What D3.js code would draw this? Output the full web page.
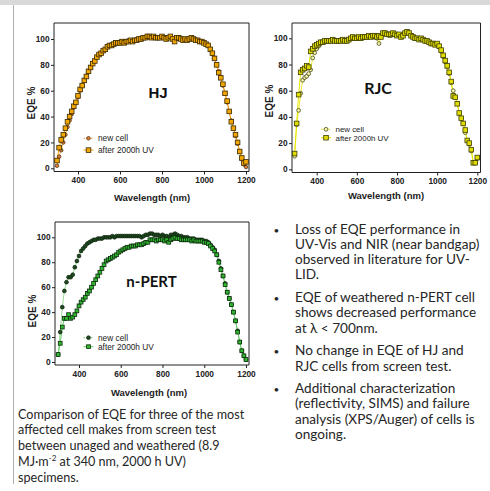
<!DOCTYPE html>
<html>
<head>
<meta charset="utf-8">
<script src="https://cdn.jsdelivr.net/npm/d3@7"></script>
<style>
  body { margin: 0; background: #fff; }
  svg { display: block; }
</style>
</head>
<body>
<svg id="page" width="490" height="491"></svg>
<script>
  // wavelengths in nm
  var wl = d3.range(300, 1201, 10);
  var wlRjc = d3.range(290, 1201, 10);
  var xTicks = [400, 600, 800, 1000, 1200];
  var yTicks = [0, 20, 40, 60, 80, 100];

  // EQE %
  var hjNew = [2, 9, 14, 20, 26, 32, 37, 42, 47, 51,
    55, 60, 64, 68, 71, 75, 78, 81, 83, 86,
    88, 89, 91, 92, 94, 95, 96, 96, 97, 97,
    98, 98, 98, 98, 99, 99, 99, 99, 100, 100,
    100, 101, 101, 102, 101, 101, 101, 101, 101, 101,
    101, 101, 101, 101, 101, 100, 100, 100, 100, 100,
    100, 100, 100, 100, 100, 100, 99, 99, 98, 98,
    97, 96, 95, 92, 89, 85, 80, 75, 70, 64,
    58, 51, 44, 37, 31, 25, 19, 13, 7, 3,
    1];
  var hjAged = [6, 16, 22, 26, 31, 36, 40, 44, 48, 51,
    56, 61, 64, 68, 71, 75, 78, 81, 83, 86,
    88, 89, 91, 92, 94, 95, 95, 96, 97, 97,
    97, 98, 97, 98, 98, 99, 98, 99, 99, 100,
    100, 101, 101, 102, 102, 101, 102, 101, 101, 101,
    102, 101, 100, 101, 102, 100, 98, 101, 101, 100,
    99, 100, 99, 100, 101, 100, 99, 99, 98, 98,
    97, 96, 95, 92, 89, 85, 80, 74, 70, 65,
    58, 52, 44, 36, 31, 26, 20, 13, 8, 4,
    5];

  var rjcNew = [10,
    34, 45, 58, 68, 70, 71, 73, 76, 85, 89,
    92, 94, 96, 97, 97, 98, 98, 98, 99, 98,
    98, 98, 99, 98, 98, 98, 99, 100, 101, 100,
    100, 100, 100, 101, 101, 101, 101, 102, 101, 101,
    100, 96, 101, 103, 104, 103, 102, 102, 103, 103,
    102, 102, 101, 103, 104, 105, 104, 102, 101, 100,
    100, 99, 99, 99, 98, 98, 97, 96, 96, 95,
    95, 93, 90, 86, 82, 78, 73, 66, 60, 55,
    50, 43, 39, 35, 28, 22, 19, 14, 5, 5,
    8];
  var rjcAged = [12,
    35, 57, 74, 76, 77, 79, 78, 90, 92, 94,
    95, 96, 97, 97, 98, 98, 98, 98, 99, 98,
    98, 98, 98, 99, 98, 98, 99, 100, 101, 100,
    100, 101, 100, 101, 101, 101, 102, 101, 102, 102,
    101, 102, 101, 104, 104, 103, 103, 103, 104, 103,
    102, 103, 101, 102, 104, 105, 104, 102, 101, 100,
    100, 99, 100, 99, 98, 98, 97, 96, 96, 95,
    96, 94, 91, 87, 83, 79, 74, 67, 56, 55,
    50, 43, 39, 35, 30, 22, 20, 15, 5, 5,
    9];

  var npNew = [6, 24, 44, 57, 64, 68, 68, 70, 76, 81,
    85, 89, 91, 93, 95, 96, 97, 98, 98, 99,
    99, 99, 100, 100, 100, 100, 101, 100, 101, 101,
    101, 101, 101, 101, 101, 101, 101, 101, 101, 101,
    100, 101, 102, 102, 103, 103, 102, 102, 102, 101,
    102, 101, 101, 100, 102, 102, 103, 102, 101, 101,
    100, 100, 100, 99, 99, 99, 98, 98, 98, 98,
    97, 97, 96, 94, 92, 90, 86, 81, 75, 69,
    63, 56, 51, 46, 40, 33, 25, 16, 9, 5,
    2];
  var npAged = [6, 15, 28, 35, 35, 38, 35, 36, 38, 41,
    45, 48, 50, 52, 55, 57, 60, 63, 66, 69,
    72, 75, 78, 81, 82, 83, 84, 85, 86, 88,
    89, 90, 91, 92, 92, 93, 93, 93, 94, 94,
    94, 95, 96, 96, 98, 98, 98, 97, 98, 98,
    98, 97, 98, 96, 98, 99, 100, 99, 99, 98,
    98, 98, 98, 98, 97, 98, 97, 97, 97, 97,
    96, 96, 95, 93, 91, 89, 86, 80, 74, 69,
    62, 56, 51, 46, 40, 33, 24, 16, 9, 5,
    2];

  var legendNames = ["new cell", "after 2000h UV"];

  var svg = d3.select("#page");

  // slide chrome
  svg.append("rect").attr("x", 0).attr("y", 0).attr("width", 490).attr("height", 5).attr("fill", "#d9d9d9");
  svg.append("line").attr("x1", 13.5).attr("x2", 13.5).attr("y1", 5).attr("y2", 484)
    .attr("stroke", "#b0b0b0").attr("stroke-width", 1);

  function drawChart(c) {
    var g = svg.append("g");
    var x = d3.scaleLinear().domain([400, 1200]).range(c.xr);
    var y = d3.scaleLinear().domain([0, 100]).range(c.yr);

    // frame
    g.append("path")
      .attr("d", "M" + c.box[0] + "," + c.box[3] + "V" + c.box[1] + "H" + c.box[2] + "V" + c.box[3] + "H" + c.box[0])
      .attr("fill", "none").attr("stroke", "#222").attr("stroke-width", 1);

    var xa = g.append("g")
      .attr("transform", "translate(0," + c.box[3] + ")")
      .call(d3.axisBottom(x).tickValues(xTicks).tickFormat(d3.format("d")).tickSize(3).tickPadding(3));
    var ya = g.append("g")
      .attr("transform", "translate(" + c.box[0] + ",0)")
      .call(d3.axisLeft(y).tickValues(yTicks).tickFormat(d3.format("d")).tickSize(3).tickPadding(1.5));
    [xa, ya].forEach(function(a) {
      a.select(".domain").remove();
      a.selectAll("line").attr("stroke", "#222");
      a.selectAll("text").attr("font-family", "Liberation Sans, Arial, sans-serif")
        .attr("font-size", 8.3).attr("font-weight", "bold").attr("fill", "#222");
    });

    g.append("text").attr("x", c.xTitle[0]).attr("y", c.xTitle[1])
      .attr("text-anchor", "middle").attr("font-family", "Liberation Sans, Arial, sans-serif")
      .attr("font-size", 9.5).attr("font-weight", "bold").attr("fill", "#222")
      .text("Wavelength (nm)");
    g.append("text")
      .attr("transform", "translate(" + c.yTitle[0] + "," + c.yTitle[1] + ") rotate(-90)")
      .attr("text-anchor", "middle").attr("font-family", "Liberation Sans, Arial, sans-serif")
      .attr("font-size", 10).attr("font-weight", "bold").attr("fill", "#222")
      .text("EQE %");

    var line = d3.line().x(function(d) { return x(d[0]); }).y(function(d) { return y(d[1]); });
    var newPts = d3.zip(c.wl, c.newVals);
    var agedPts = d3.zip(c.wl, c.agedVals);

    g.append("path").datum(newPts).attr("d", line).attr("fill", "none")
      .attr("stroke", c.newLine).attr("stroke-width", 0.8);
    g.append("path").datum(agedPts).attr("d", line).attr("fill", "none")
      .attr("stroke", c.agedLine).attr("stroke-width", 1);

    var drawNew = function(sel) {
      sel.selectAll("circle.n").data(newPts).join("circle").attr("class", "n")
        .attr("cx", function(d) { return x(d[0]); }).attr("cy", function(d) { return y(d[1]); })
        .attr("r", c.rNew).attr("fill", c.newFill).attr("stroke", c.newStroke).attr("stroke-width", 0.7);
    };
    var drawAged = function(sel) {
      sel.selectAll("rect.a").data(agedPts).join("rect").attr("class", "a")
        .attr("x", function(d) { return x(d[0]) - c.sq / 2; })
        .attr("y", function(d) { return y(d[1]) - c.sq / 2; })
        .attr("width", c.sq).attr("height", c.sq)
        .attr("fill", c.agedFill).attr("stroke", c.agedStroke).attr("stroke-width", 0.8);
    };
    if (c.newOnTop) { drawAged(g.append("g")); drawNew(g.append("g")); }
    else { drawNew(g.append("g")); drawAged(g.append("g")); }

    // legend
    var lg = g.append("g");
    legendNames.forEach(function(name, i) {
      var ly = c.leg[1] + i * c.legStep;
      var mx = c.leg[0];
      lg.append("line").attr("x1", mx - 5).attr("x2", mx + 5).attr("y1", ly).attr("y2", ly)
        .attr("stroke", i == 0 ? c.newLine : c.agedLine).attr("stroke-width", 1)
        .attr("stroke-dasharray", i == 0 ? "1.5,1" : null);
      if (i == 0) {
        lg.append("circle").attr("cx", mx).attr("cy", ly).attr("r", c.rNew)
          .attr("fill", c.newFill).attr("stroke", c.newStroke).attr("stroke-width", 0.7);
      } else {
        lg.append("rect").attr("x", mx - c.sq / 2).attr("y", ly - c.sq / 2).attr("width", c.sq).attr("height", c.sq)
          .attr("fill", c.agedFill).attr("stroke", c.agedStroke).attr("stroke-width", 0.8);
      }
      lg.append("text").attr("x", mx + 9.5).attr("y", ly + 3)
        .attr("font-family", "Liberation Sans, Arial, sans-serif").attr("font-size", c.legSize)
        .attr("fill", "#222").text(name);
    });

    g.append("text").attr("x", c.title[0]).attr("y", c.title[1])
      .attr("text-anchor", "middle").attr("font-family", c.titleFont)
      .attr("font-size", c.titleSize).attr("font-weight", "bold").attr("fill", "#111")
      .text(c.name);
  }

  drawChart({
    name: "HJ", title: [158, 97.5], titleFont: "Liberation Sans, Arial, sans-serif", titleSize: 15,
    box: [54, 23, 249, 171.5], xr: [78, 246], yr: [168.3, 39],
    xTitle: [152, 200.5], yTitle: [35, 103],
    wl: wl, newVals: hjNew, agedVals: hjAged,
    newLine: "#f2a23a", agedLine: "#f5a000", newFill: "#e8803a", newStroke: "#3a2000",
    agedFill: "#f2a600", agedStroke: "#3b2a00", rNew: 1.8, sq: 4.6, newOnTop: false,
    leg: [88.5, 138.3], legStep: 11.8, legSize: 8.3
  });

  drawChart({
    name: "RJC", title: [378, 94], titleFont: "Lato, 'Open Sans', sans-serif", titleSize: 16,
    box: [292, 23, 480.5, 172.5], xr: [316.7, 477.3], yr: [169.3, 38.3],
    xTitle: [386, 198.5], yTitle: [273, 101],
    wl: wlRjc, newVals: rjcNew, agedVals: rjcAged,
    newLine: "#e6e600", agedLine: "#e6e600", newFill: "#f4f4b0", newStroke: "#333300",
    agedFill: "#e0dc00", agedStroke: "#3d3d00", rNew: 1.9, sq: 4.6, newOnTop: false,
    leg: [326, 129.3], legStep: 8.4, legSize: 7.9
  });

  drawChart({
    name: "n-PERT", title: [151.5, 287], titleFont: "Lato, 'Open Sans', sans-serif", titleSize: 15,
    box: [55, 222, 249, 365], xr: [79, 246], yr: [362, 237.3],
    xTitle: [149, 395.5], yTitle: [36, 311],
    wl: wl, newVals: npNew, agedVals: npAged,
    newLine: "#7fd07f", agedLine: "#66cc66", newFill: "#1e4a1e", newStroke: "#0a1e0a",
    agedFill: "#2fb82f", agedStroke: "#0e2a0e", rNew: 1.9, sq: 3.8, newOnTop: false,
    leg: [88.5, 337.7], legStep: 9, legSize: 8.3
  });

  // caption under the charts
  var capLines = [
    "Comparison of EQE for three of the most",
    "affected cell makes from screen test",
    "between unaged and weathered (8.9"
  ];
  var cap = svg.append("g").attr("font-family", "Lato, 'Open Sans', sans-serif")
    .attr("font-size", 12.6).attr("fill", "#262626");
  capLines.forEach(function(t, i) {
    cap.append("text").attr("x", 18).attr("y", 418.5 + i * 15.8).text(t);
  });
  var mj = cap.append("text").attr("x", 18).attr("y", 418.5 + 3 * 15.8);
  mj.append("tspan").text("MJ\u00B7m");
  mj.append("tspan").attr("font-size", 8).attr("dy", -4.5).text("-2");
  mj.append("tspan").attr("dy", 4.5).text(" at 340 nm, 2000 h UV)");
  cap.append("text").attr("x", 18).attr("y", 418.5 + 4 * 15.8).text("specimens.");

  // bullet list on the right
  var bullets = [
    ["Loss of EQE performance in", "UV-Vis and NIR (near bandgap)", "observed in literature for UV-", "LID."],
    ["EQE of weathered n-PERT cell", "shows decreased performance", "at  \u03BB < 700nm."],
    ["No change in EQE of HJ and", "RJC cells from screen test."],
    ["Additional characterization", "(reflectivity, SIMS) and failure", "analysis (XPS/Auger) of cells is", "ongoing."]
  ];
  var bl = svg.append("g").attr("font-family", "Lato, 'Open Sans', sans-serif")
    .attr("font-size", 13.6).attr("fill", "#262626");
  var by = 233.5;
  bullets.forEach(function(item) {
    bl.append("text").attr("x", 273.5).attr("y", by).attr("font-size", 10).text("\u2022");
    item.forEach(function(t, i) {
      bl.append("text").attr("x", 295).attr("y", by + i * 15.3).text(t);
    });
    by += item.length * 15.3 + 7.3;
  });
</script>
</body>
</html>
